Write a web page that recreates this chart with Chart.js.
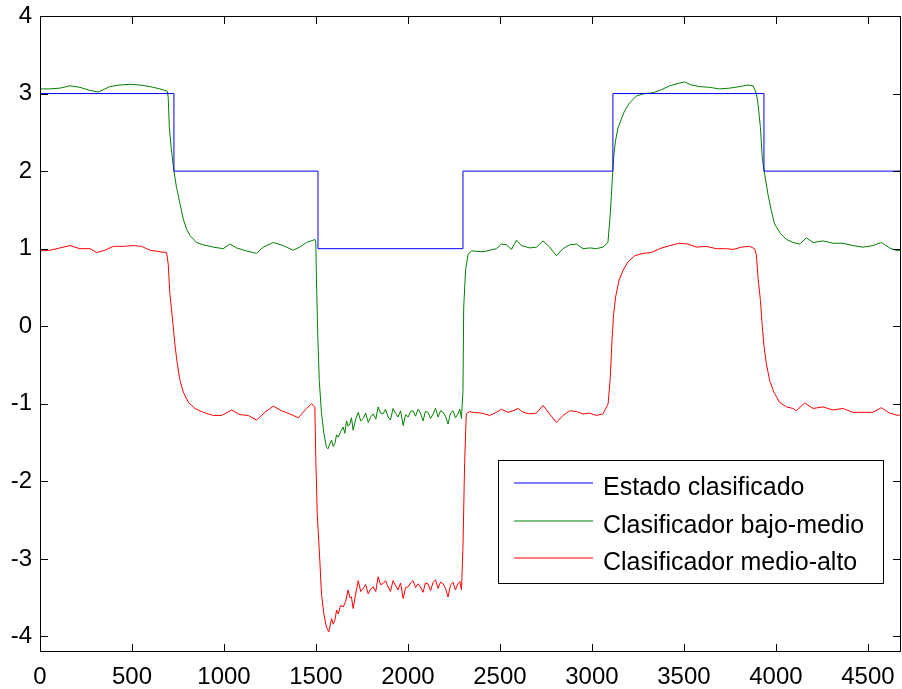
<!DOCTYPE html>
<html>
<head>
<meta charset="utf-8">
<script src="https://cdn.jsdelivr.net/npm/chart.js@4"></script>
<style>
  html, body { margin: 0; padding: 0; background: #fff; }
  canvas { display: block; }
</style>
</head>
<body>
<canvas id="estado" width="902" height="689"></canvas>
<script>
// legend labels and colours
var seriesNames = ["Estado clasificado", "Clasificador bajo-medio", "Clasificador medio-alto"];
var seriesColors = ["#0000ff", "#008000", "#ff0000"];

// tick values
var xTickValues = [0, 500, 1000, 1500, 2000, 2500, 3000, 3500, 4000, 4500];
var yTickValues = [-4, -3, -2, -1, 0, 1, 2, 3, 4];

// estado clasificado (step)
var xEstado = [0, 728, 1511, 2299, 3114, 3935, 4680];
var yEstado = [3, 2, 1, 2, 3, 2, 2];

// clasificador bajo-medio
var xBajo = [0, 54, 109, 163, 217, 272, 317, 380, 435, 489, 543, 598, 652, 679, 692, 697, 703, 715, 728, 742,
  761, 779, 797, 815, 851, 887, 942, 996, 1032, 1069, 1123, 1177, 1213, 1268, 1322, 1376, 1412, 1449, 1485, 1494,
  1499, 1503, 1510, 1518, 1530, 1543, 1557,
  1566, 1575, 1585, 1594, 1603, 1612, 1621, 1634, 1648, 1657, 1666, 1675, 1684, 1693, 1702, 1716, 1730, 1743, 1757, 1770,
  1784, 1797, 1811, 1825, 1838, 1851, 1865, 1878, 1892, 1905, 1919, 1932, 1946, 1960, 1974, 1987, 2001, 2014, 2028, 2041,
  2055, 2068, 2082, 2095, 2109, 2123, 2137, 2150, 2164, 2177, 2191, 2204, 2218, 2231, 2245, 2258, 2272, 2282, 2291,
  2299, 2303, 2313, 2327, 2345, 2354, 2408, 2445, 2481, 2508, 2535, 2563, 2590, 2617, 2662, 2698, 2734, 2770, 2807, 2843,
  2879, 2916, 2952, 2988, 3024, 3060, 3087, 3100, 3109, 3118, 3128, 3142, 3160, 3178, 3205, 3242, 3287, 3332, 3378, 3423,
  3468, 3504, 3541, 3586, 3640, 3694, 3749, 3803, 3848, 3876, 3894, 3903, 3916, 3926, 3939, 3957, 3975, 3993, 4020, 4057,
  4093, 4129, 4166, 4202, 4256, 4310, 4364, 4419, 4473, 4527, 4573, 4618, 4663, 4680];
var yBajo = [3.06, 3.06, 3.07, 3.10, 3.08, 3.04, 3.02, 3.09, 3.11, 3.12, 3.11, 3.09, 3.06, 3.04, 3.03, 2.95, 2.56, 2.26, 2.00, 1.79,
  1.58, 1.38, 1.25, 1.17, 1.08, 1.05, 1.02, 1.00, 1.06, 1.01, 0.97, 0.94, 1.02, 1.08, 1.04, 0.98, 1.02, 1.08, 1.11, 1.12,
  1.08, 0.57, -0.14, -0.70, -1.12, -1.38, -1.56,
  -1.58, -1.52, -1.47, -1.55, -1.51, -1.40, -1.43, -1.36, -1.30, -1.38, -1.22, -1.29, -1.26, -1.18, -1.34, -1.20, -1.11, -1.22, -1.19, -1.12,
  -1.24, -1.17, -1.13, -1.20, -1.04, -1.12, -1.13, -1.07, -1.17, -1.21, -1.06, -1.12, -1.17, -1.09, -1.28, -1.14, -1.17, -1.10, -1.09, -1.16,
  -1.07, -1.12, -1.22, -1.10, -1.11, -1.19, -1.13, -1.06, -1.17, -1.09, -1.11, -1.16, -1.26, -1.12, -1.09, -1.18, -1.13, -1.07, -1.19,
  -0.83, 0.24, 0.72, 0.93, 0.97, 0.97, 0.96, 0.98, 1.00, 1.06, 1.05, 0.99, 1.11, 1.04, 1.01, 1.02, 1.10, 1.02, 0.91, 1.00,
  1.05, 1.06, 1.00, 1.01, 1.00, 1.02, 1.08, 1.45, 1.83, 2.18, 2.39, 2.56, 2.67, 2.78, 2.88, 2.97, 3.00, 3.01, 3.05, 3.10,
  3.13, 3.15, 3.11, 3.09, 3.08, 3.06, 3.07, 3.09, 3.11, 3.10, 3.00, 2.86, 2.56, 2.17, 1.96, 1.70, 1.49, 1.32, 1.21, 1.12,
  1.08, 1.06, 1.14, 1.08, 1.10, 1.07, 1.07, 1.04, 1.02, 1.04, 1.08, 1.01, 0.97, 0.99];

// clasificador medio-alto
var xMedio = [0, 54, 109, 163, 217, 272, 308, 353, 398, 453, 507, 552, 598, 652, 688, 697, 706, 721, 733, 746,
  761, 779, 806, 842, 887, 942, 987, 1042, 1087, 1132, 1177, 1222, 1268, 1313, 1358, 1404, 1449, 1476, 1494, 1499,
  1507, 1521, 1530, 1543, 1557, 1570,
  1585, 1594, 1603, 1612, 1621, 1634, 1648, 1661, 1675, 1684, 1693, 1702, 1716, 1730, 1743, 1757, 1770, 1784, 1797, 1811,
  1825, 1838, 1851, 1865, 1878, 1892, 1905, 1919, 1932, 1946, 1960, 1974, 1987, 2001, 2014, 2028, 2041, 2055, 2068, 2082,
  2095, 2109, 2123, 2137, 2150, 2164, 2177, 2191, 2204, 2218, 2231, 2245, 2258, 2272, 2282, 2291,
  2299, 2308, 2317, 2335, 2354, 2400, 2445, 2481, 2508, 2544, 2571, 2598, 2626, 2662, 2698, 2734, 2770, 2807, 2843, 2879,
  2916, 2952, 2988, 3024, 3060, 3088, 3100, 3109, 3118, 3129, 3147, 3169, 3196, 3233, 3278, 3323, 3368, 3423, 3477, 3522,
  3568, 3622, 3676, 3731, 3767, 3812, 3857, 3884, 3894, 3903, 3916, 3926, 3935, 3948, 3966, 3989, 4020, 4057, 4093, 4111,
  4156, 4202, 4256, 4310, 4364, 4419, 4473, 4527, 4573, 4618, 4663, 4680];
var yMedio = [0.97, 0.98, 1.01, 1.04, 1.00, 1.00, 0.95, 0.98, 1.03, 1.03, 1.04, 1.03, 0.98, 0.96, 0.95, 0.80, 0.42, 0.07, -0.23, -0.48,
  -0.70, -0.85, -0.98, -1.06, -1.11, -1.15, -1.15, -1.08, -1.14, -1.15, -1.21, -1.11, -1.03, -1.09, -1.13, -1.18, -1.06, -1.00, -1.04, -1.69,
  -2.42, -3.02, -3.45, -3.71, -3.88, -3.94,
  -3.77, -3.84, -3.79, -3.66, -3.71, -3.60, -3.62, -3.55, -3.40, -3.50, -3.49, -3.64, -3.45, -3.28, -3.42, -3.38, -3.33, -3.45, -3.39, -3.36,
  -3.42, -3.23, -3.33, -3.32, -3.28, -3.36, -3.42, -3.28, -3.34, -3.40, -3.31, -3.51, -3.37, -3.36, -3.31, -3.28, -3.37, -3.32, -3.36, -3.43,
  -3.31, -3.32, -3.41, -3.30, -3.27, -3.38, -3.30, -3.32, -3.38, -3.49, -3.34, -3.30, -3.40, -3.32, -3.29, -3.40,
  -2.85, -1.77, -1.13, -1.10, -1.11, -1.12, -1.15, -1.11, -1.07, -1.11, -1.09, -1.06, -1.11, -1.13, -1.12, -1.02, -1.13, -1.24, -1.15, -1.09,
  -1.10, -1.13, -1.12, -1.15, -1.13, -1.00, -0.66, -0.19, 0.16, 0.38, 0.59, 0.72, 0.83, 0.91, 0.94, 0.95, 1.00, 1.04, 1.07, 1.06,
  1.02, 1.03, 1.00, 1.00, 0.99, 1.02, 1.03, 1.00, 0.92, 0.62, 0.33, 0.00, -0.25, -0.48, -0.70, -0.85, -0.98, -1.04, -1.06, -1.09,
  -0.99, -1.06, -1.04, -1.08, -1.06, -1.11, -1.11, -1.11, -1.05, -1.12, -1.15, -1.14];

function toPoints(xs, ys) {
  return xs.map((x, i) => ({ x: x, y: ys[i] }));
}

const axisFont = { family: "'Liberation Sans', Arial, sans-serif", size: 24 };

// matlab style box, inward ticks and legend inside the axes
const matlabBox = {
  id: "matlabBox",
  afterDatasetsDraw(chart) {
    const { ctx, chartArea: a, scales } = chart;
    const tl = 8;
    ctx.save();
    ctx.strokeStyle = "#000";
    ctx.lineWidth = 1;
    ctx.beginPath();
    scales.x.ticks.forEach((t) => {
      const px = Math.round(scales.x.getPixelForValue(t.value)) + 0.5;
      ctx.moveTo(px, a.bottom); ctx.lineTo(px, a.bottom - tl);
      ctx.moveTo(px, a.top); ctx.lineTo(px, a.top + tl);
    });
    scales.y.ticks.forEach((t) => {
      const py = Math.round(scales.y.getPixelForValue(t.value)) + 0.5;
      ctx.moveTo(a.left, py); ctx.lineTo(a.left + tl, py);
      ctx.moveTo(a.right, py); ctx.lineTo(a.right - tl, py);
    });
    ctx.stroke();
    ctx.strokeRect(a.left + 0.5, a.top + 0.5, a.right - a.left - 1, a.bottom - a.top - 1);

    // legend
    const bx = 498.5, by = 460.5, bw = 385, bh = 123;
    ctx.fillStyle = "#fff";
    ctx.fillRect(bx, by, bw, bh);
    ctx.strokeStyle = "#000";
    ctx.strokeRect(bx, by, bw, bh);
    ctx.font = "25px 'Liberation Sans', Arial, sans-serif";
    ctx.textBaseline = "alphabetic";
    ctx.textAlign = "left";
    for (let i = 0; i < seriesNames.length; i++) {
      const ly = Math.round(483 + i * 37.5);
      ctx.strokeStyle = seriesColors[i];
      ctx.lineWidth = 1.2;
      ctx.beginPath();
      ctx.moveTo(514, ly);
      ctx.lineTo(593, ly);
      ctx.stroke();
      ctx.fillStyle = "#000";
      ctx.fillText(seriesNames[i], 603, ly + 12);
    }
    ctx.restore();
  },
};

const config = {
  type: "line",
  data: {
    datasets: [
      { label: seriesNames[0], data: toPoints(xEstado, yEstado), borderColor: seriesColors[0], borderWidth: 1, stepped: true, pointRadius: 0 },
      { label: seriesNames[1], data: toPoints(xBajo, yBajo), borderColor: seriesColors[1], borderWidth: 1, pointRadius: 0 },
      { label: seriesNames[2], data: toPoints(xMedio, yMedio), borderColor: seriesColors[2], borderWidth: 1, pointRadius: 0 },
    ],
  },
  options: {
    responsive: false,
    animation: false,
    layout: { padding: { top: 16, right: 1, left: 0, bottom: 0 } },
    plugins: {
      legend: { display: false },
      tooltip: { enabled: false },
    },
    scales: {
      x: {
        type: "linear",
        min: 0,
        max: 4680,
        grid: { display: false, drawTicks: false },
        border: { display: false },
        ticks: {
          autoSkip: false,
          maxRotation: 0,
          padding: 11,
          color: "#000",
          font: axisFont,
          callback: (v) => String(v),
        },
        afterBuildTicks: (s) => { s.ticks = xTickValues.map((v) => ({ value: v })); },
        afterFit: (s) => { s.height = 37; s.paddingLeft = 0; s.paddingRight = 0; },
      },
      y: {
        min: -4.2,
        max: 4,
        grid: { display: false, drawTicks: false },
        border: { display: false },
        ticks: {
          padding: 8,
          color: "#000",
          font: axisFont,
          callback: (v) => String(v),
        },
        afterBuildTicks: (s) => { s.ticks = yTickValues.map((v) => ({ value: v })); },
        afterFit: (s) => { s.width = 40; s.paddingTop = 0; s.paddingBottom = 0; },
      },
    },
  },
  plugins: [matlabBox],
};

const chart = new Chart(document.getElementById("estado"), config);
</script>
</body>
</html>
